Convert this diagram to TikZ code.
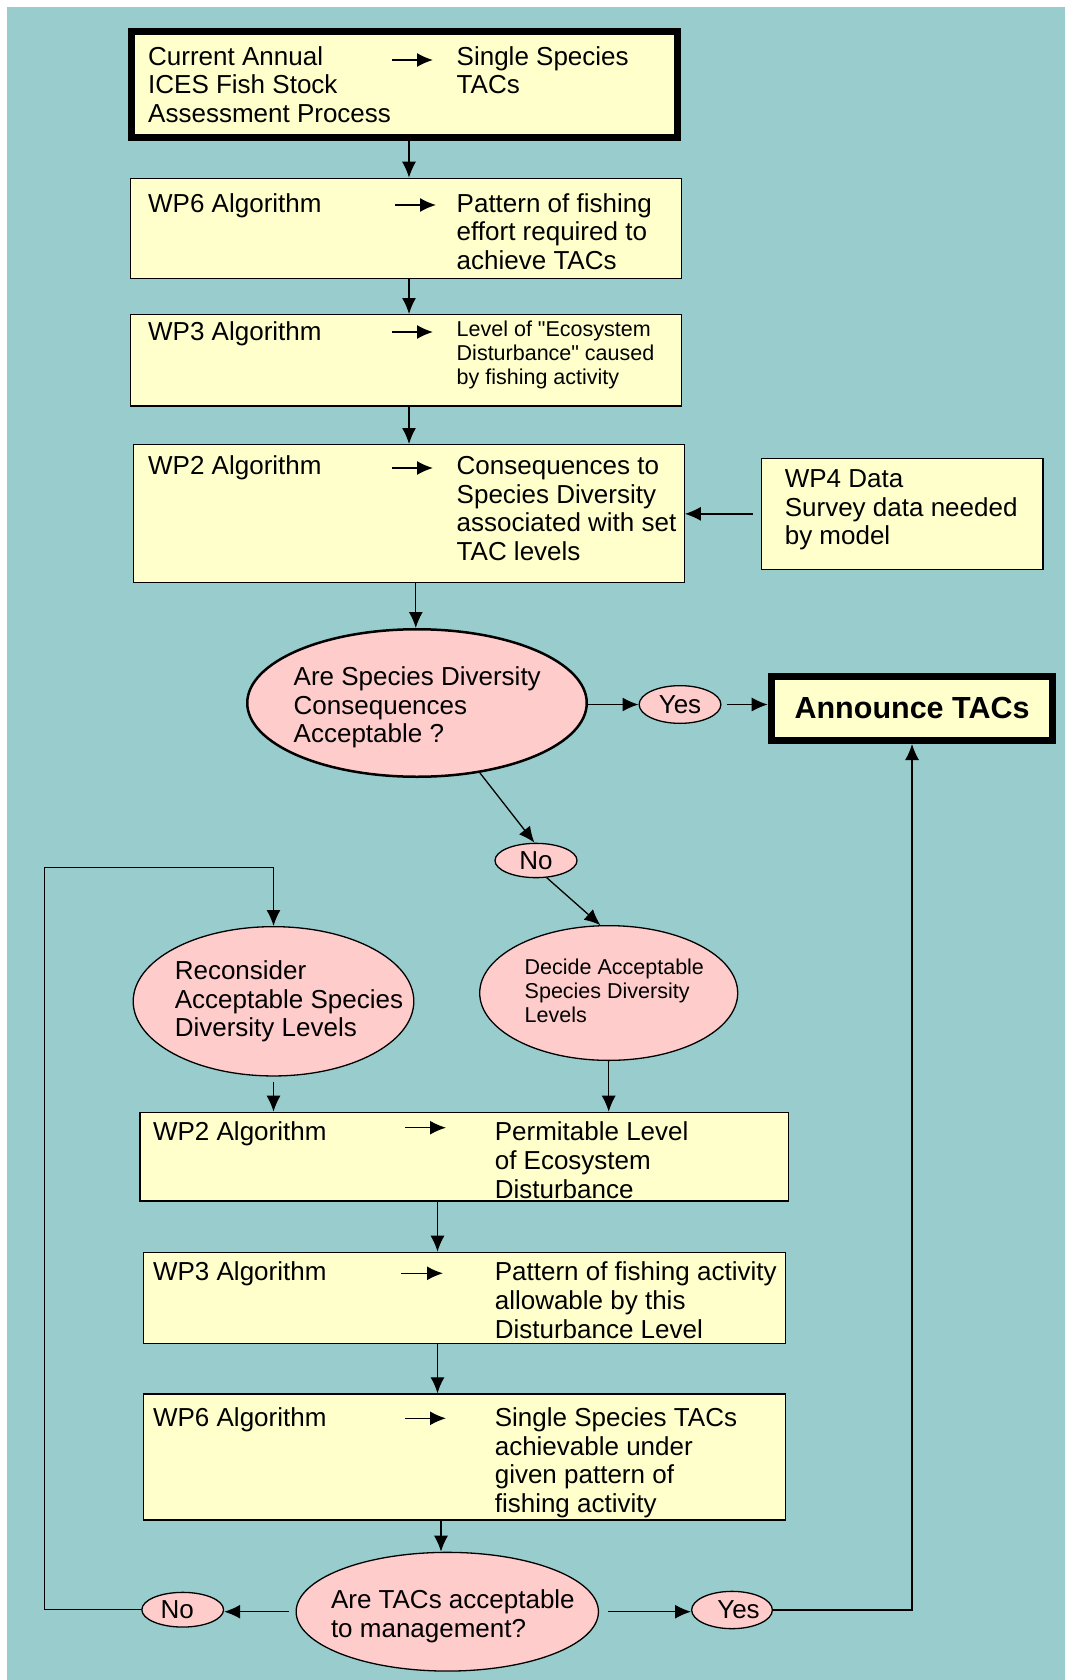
\documentclass[tikz,border=0pt]{standalone}
\usepackage{fontspec}
\setmainfont{Liberation Sans}[Ligatures=TeXOff]
\usetikzlibrary{shapes.geometric,arrows.meta}
\definecolor{bgteal}{HTML}{99CCCC}
\definecolor{boxyellow}{HTML}{FFFFCC}
\definecolor{ovalpink}{HTML}{FFCCCC}
\newcommand\fontA{\fontsize{26}{28.8}\selectfont}
\newcommand\fontB{\fontsize{21.5}{24}\selectfont}
\newcommand\fontC{\bfseries\fontsize{30.5}{34}\selectfont}
\begin{document}
\begin{tikzpicture}[x=1pt,y=-1pt,
  box/.style={draw, fill=boxyellow, line width=1.3pt, inner sep=0pt, rectangle},
  thickbox/.style={box, line width=7pt},
  oval/.style={draw, fill=ovalpink, ellipse, inner sep=0pt, line width=1.3pt, font=\fontA},
  txtA/.style={font=\fontA, align=left, anchor=north west, inner sep=0pt, yshift=20.16pt},
  txtB/.style={font=\fontB, align=left, anchor=north west, inner sep=0pt, yshift=16.8pt},
  conn/.style={line width=1.3pt, -{Latex[length=16pt,width=14pt]}},
  inarrow/.style={line width=1.5pt, -{Latex[length=16pt,width=14pt]}},
]
\useasboundingbox (0,0) rectangle (1065,1680);
\fill[white] (0,0) rectangle (1065,1680);
\fill[bgteal] (7,7) rectangle (1065,1680);

% boxes
\node[thickbox, minimum width=546.7pt, minimum height=105.4pt] (top) at (404.55,84.5) {};
\node[box, minimum width=550.7pt, minimum height=100.3pt] (wp6) at (406,228.5) {};
\node[box, minimum width=550.7pt, minimum height=91.4pt] (wp3) at (406,360.35) {};
\node[box, minimum width=551pt, minimum height=138pt] (wp2) at (408.65,513.65) {};
\node[box, minimum width=281.3pt, minimum height=111pt] (wp4) at (902.2,513.85) {};
\node[oval, line width=2.5pt, minimum width=339.5pt, minimum height=147.5pt] (e1) at (417,703) {};
\node[oval, minimum width=81.7pt, minimum height=37.7pt] (yes1) at (680,704.5) {Yes};
\node[thickbox, minimum width=281.7pt, minimum height=64.3pt, font=\fontC] (ann) at (912.05,708.35) {Announce TACs};
\node[oval, minimum width=82pt, minimum height=34.3pt] (no1) at (536,860.5) {No};
\node[oval, minimum width=280.6pt, minimum height=149.3pt] (rec) at (273.5,1001.3) {};
\node[oval, minimum width=258pt, minimum height=134.7pt] (dec) at (608.7,993) {};
\node[box, minimum width=648.8pt, minimum height=88.7pt] (wp2b) at (464.35,1156.7) {};
\node[box, minimum width=642pt, minimum height=91.3pt] (wp3b) at (464.35,1298) {};
\node[box, minimum width=642pt, minimum height=126.1pt] (wp6b) at (464.35,1457) {};
\node[oval, minimum width=302.3pt, minimum height=118.7pt] (e2) at (447.3,1611.7) {};
\node[oval, minimum width=81.7pt, minimum height=34.7pt] (no2) at (182.7,1609.7) {\hspace*{-11pt}No};
\node[oval, minimum width=80.7pt, minimum height=37.3pt] (yes2) at (732,1610) {\hspace*{13pt}Yes};

% texts
\node[txtA] (topL) at (148,65) {\strut Current Annual\\ICES Fish Stock\\Assessment Process};
\node[txtA] (topR) at (456.5,65) {\strut Single Species\\TACs};
\node[txtA] (wp6L) at (148,212) {\strut WP6 Algorithm};
\node[txtA] (wp6R) at (456.5,212) {\strut Pattern of fishing\\effort required to\\achieve TACs};
\node[txtA] (wp3L) at (148,340.5) {\strut WP3 Algorithm};
\node[txtB] (wp3R) at (456.5,336.5) {\strut Level of "Ecosystem\\Disturbance" caused\\by fishing activity};
\node[txtA] (wp2L) at (148,474) {\strut WP2 Algorithm};
\node[txtA] (wp2R) at (456.5,474) {\strut Consequences to\\Species Diversity\\associated with set\\TAC levels};
\node[txtA] (wp4T) at (784.6,487) {\strut WP4 Data\\Survey data needed\\by model};
\node[txtA] (e1T) at (293.5,685) {\strut Are Species Diversity\\Consequences\\Acceptable ?};
\node[txtA] (recT) at (174.6,979) {\strut Reconsider\\Acceptable Species\\Diversity Levels};
\node[txtB] (decT) at (524.5,974) {\strut Decide Acceptable\\Species Diversity\\Levels};
\node[txtA] (wp2bL) at (152.9,1140.5) {\strut WP2 Algorithm};
\node[txtA] (wp2bR) at (494.6,1140.5) {\strut Permitable Level\\of Ecosystem\\Disturbance};
\node[txtA] (wp3bL) at (152.9,1280.5) {\strut WP3 Algorithm};
\node[txtA] (wp3bR) at (494.6,1280.5) {\strut Pattern of fishing activity\\allowable by this\\Disturbance Level};
\node[txtA] (wp6bL) at (152.9,1426) {\strut WP6 Algorithm};
\node[txtA] (wp6bR) at (494.6,1426) {\strut Single Species TACs\\achievable under\\given pattern of\\fishing activity};
\node[txtA] (e2T) at (330.8,1608) {\strut Are TACs acceptable\\to management?};

% arrows inside boxes
\coordinate (a1s) at (392,60);   \coordinate (a1e) at (433,60);
\coordinate (a2s) at (395,205);  \coordinate (a2e) at (436,205);
\coordinate (a3s) at (392,332);  \coordinate (a3e) at (433,332);
\coordinate (a4s) at (392,468);  \coordinate (a4e) at (433,468);
\coordinate (a5s) at (405,1127.7); \coordinate (a5e) at (446,1127.7);
\coordinate (a6s) at (400.8,1273.3); \coordinate (a6e) at (443,1273.3);
\coordinate (a7s) at (405,1418.3); \coordinate (a7e) at (446,1418.3);
\foreach \i in {1,...,7} {\draw[inarrow] (a\i s) -- (a\i e);}

% connectors
\coordinate (cA) at (409,0);
\coordinate (cB) at (415.8,0);
\coordinate (cC) at (437.5,0);
\coordinate (cD) at (441,0);
\coordinate (loopc) at (44.8,867.3);
\draw[conn] (top.south -| cA) -- (wp6.north -| cA);
\draw[conn] (wp6.south -| cA) -- (wp3.north -| cA);
\draw[conn] (wp3.south -| cA) -- (wp2.north -| cA);
\draw[conn] (wp2.south -| cB) -- (e1.north -| cB);
\draw[conn] ([xshift=-8pt]wp4.west) -- (wp4.west -| wp2.east);
\draw[conn] (yes1.west -| e1.east) -- (yes1.west);
\draw[conn] ([xshift=5pt]yes1.east) -- (yes1.east -| ann.west);
\draw[conn] (e1.-48) -- (no1.95);
\draw[conn] (no1.-58) -- (dec.97);
\draw[conn] (no2.west) -| (loopc) -| (rec.north);
\draw[conn] ([yshift=-5pt]rec.south) -- (rec.south |- wp2b.north);
\draw[conn] (dec.south) -- (dec.south |- wp2b.north);
\draw[conn] (wp2b.south -| cC) -- (wp3b.north -| cC);
\draw[conn] (wp3b.south -| cC) -- (wp6b.north -| cC);
\draw[conn] (wp6b.south -| cD) -- (e2.north -| cD);
\draw[conn] ([xshift=-7pt]e2.west) -- (e2.west -| no2.east);
\draw[conn] ([xshift=9pt]e2.east) -- (e2.east -| yes2.west);
\draw[conn] (yes2.east) -| (ann.south);
\end{tikzpicture}
\end{document}
